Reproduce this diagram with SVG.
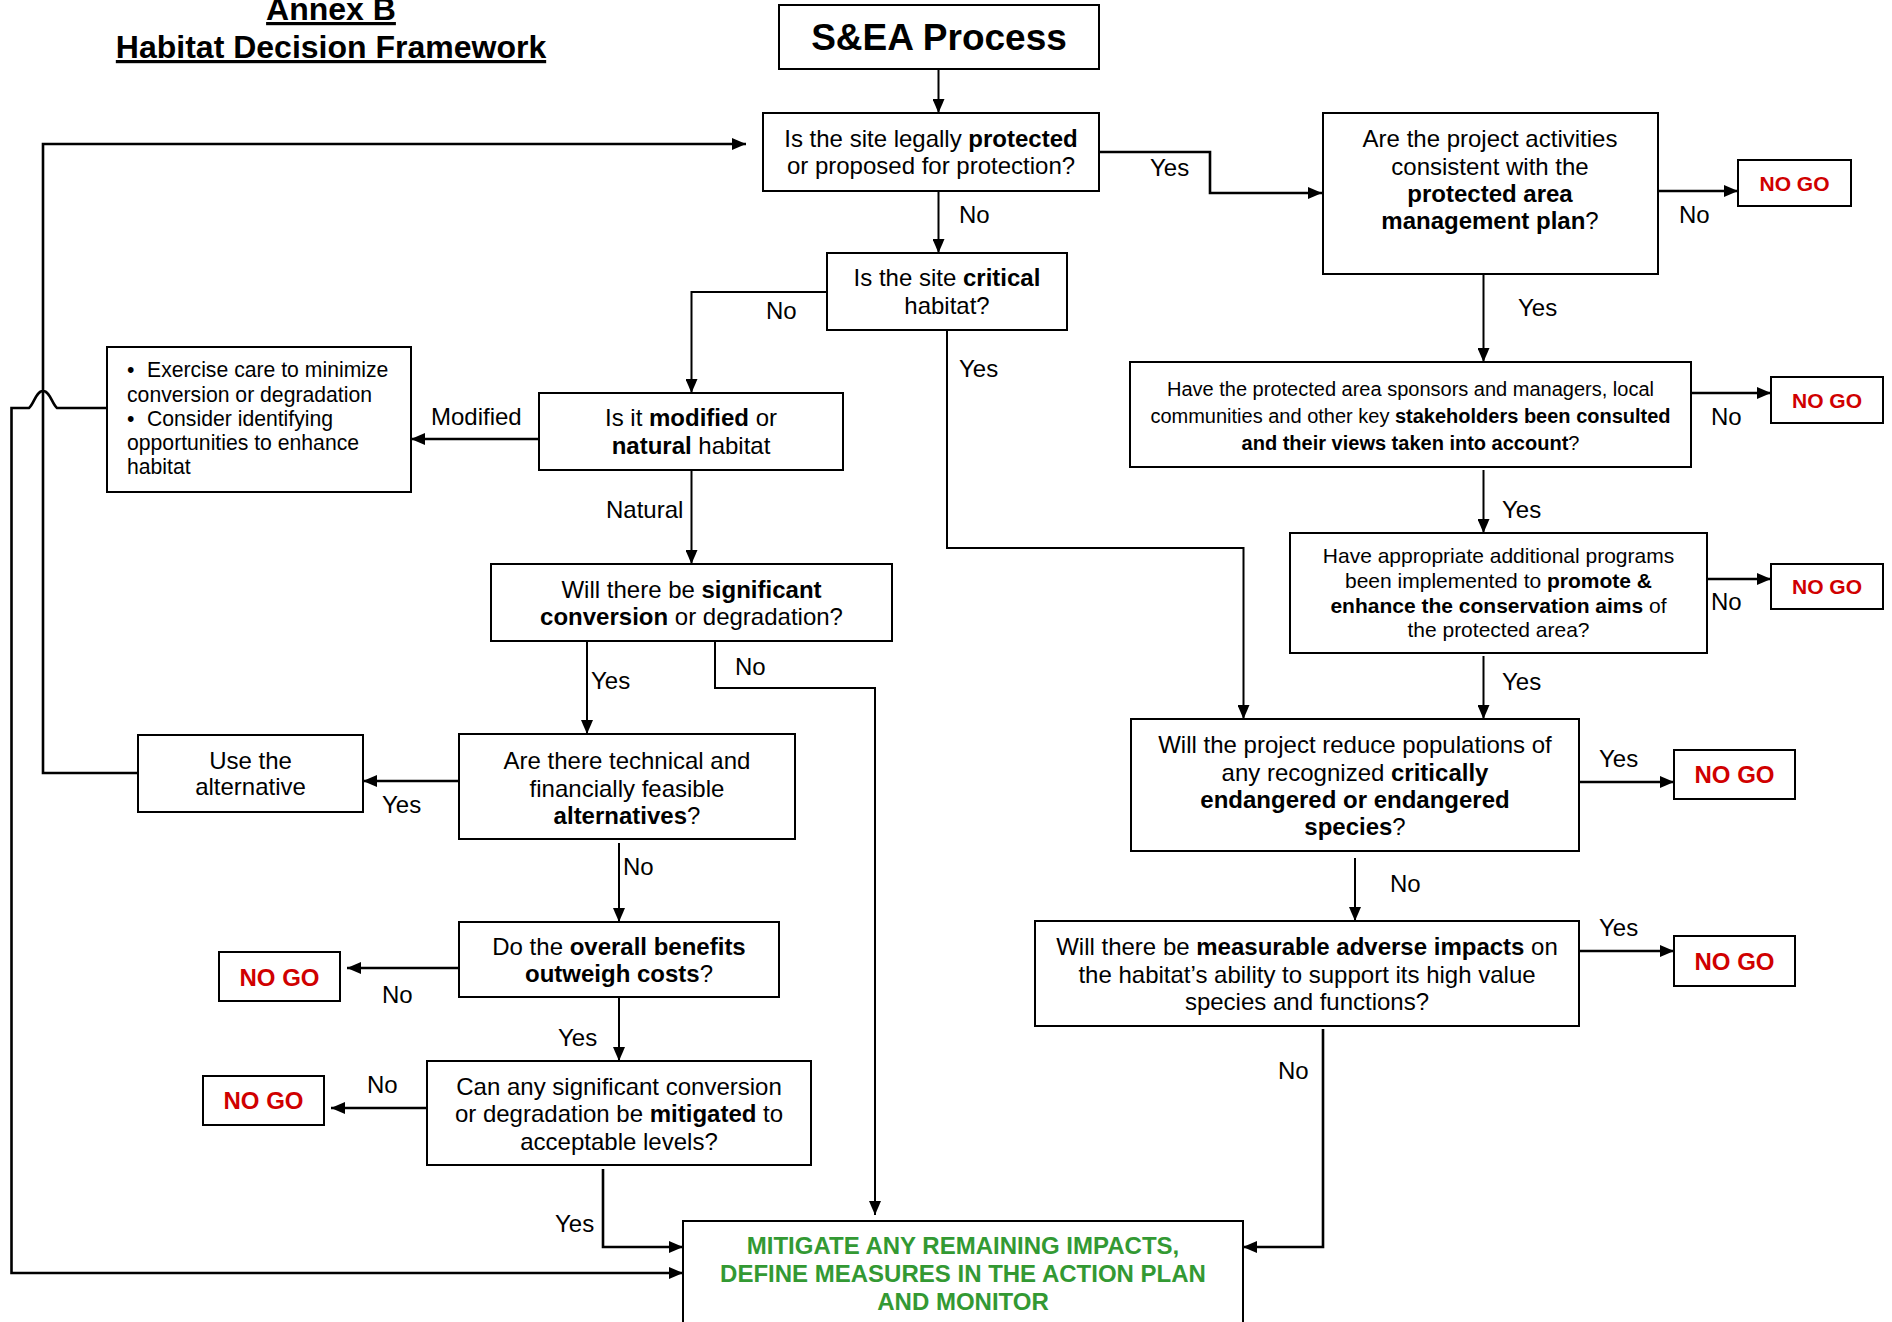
<svg xmlns="http://www.w3.org/2000/svg" width="1892" height="1322" viewBox="0 0 1892 1322">
<style>
text{font-family:"Liberation Sans",Arial,sans-serif;fill:#000}
.t{font-size:24px;text-anchor:middle}
.s20{font-size:20px;text-anchor:middle}
.s21{font-size:21px;text-anchor:middle}
.bl{font-size:21.2px}
.b{font-weight:bold}
.lbl{font-size:24px}
.ng{font-weight:bold;fill:#d00000;text-anchor:middle}
.green{font-size:24px;font-weight:bold;fill:#339933;text-anchor:middle}
.title{font-size:32px;font-weight:bold;text-anchor:middle;text-decoration:underline}
.box{fill:#fff;stroke:#000;stroke-width:2}
.c{fill:none;stroke:#000;stroke-width:2;marker-end:url(#ah)}
.h{stroke-width:2.6}
</style>
<defs>
<marker id="ah" viewBox="0 0 14 12" refX="14" refY="6" markerWidth="14" markerHeight="12" markerUnits="userSpaceOnUse" orient="auto">
<path d="M0,0 L14,6 L0,12 z" fill="#000"/>
</marker>
</defs>
<rect width="1892" height="1322" fill="#fff"/>

<g id="title">
<text class="title" x="331" y="20">Annex B</text>
<text class="title" x="331" y="58">Habitat Decision Framework</text>
</g>

<g id="connectors">
<path class="c" d="M938.5,69 V113"/>
<path class="c h" d="M1099,152 H1210 V193 H1322"/>
<path class="c h" d="M1658,191 H1738"/>
<path class="c" d="M938.5,191 V253"/>
<path class="c" d="M827,292 H691.5 V393"/>
<path class="c" d="M947,330 V548 H1243.5 V719"/>
<path class="c" d="M1483.5,274 V362"/>
<path class="c h" d="M1691,393 H1771"/>
<path class="c" d="M1483.5,470 V533"/>
<path class="c h" d="M1707,579 H1771"/>
<path class="c" d="M1483.5,656 V719"/>
<path class="c h" d="M1579,782 H1674"/>
<path class="c" d="M1355,858 V921"/>
<path class="c h" d="M1579,951 H1674"/>
<path class="c h" d="M1323,1029 V1247 H1243"/>
<path class="c h" d="M539,439 H411"/>
<path class="c" d="M691.5,470 V564"/>
<path class="c" d="M587,641 V734"/>
<path class="c" d="M715,641 V688 H875 V1215"/>
<path class="c h" d="M459,781 H363"/>
<path class="c h" d="M138,773 H43 V144 H746"/>
<path class="c h" d="M107,408 H57 C52,404 50,391 43,391 C36,391 34,404 29,408 H11.5 V1273 H683"/>
<path class="c" d="M619,843 V922"/>
<path class="c h" d="M459,968 H347"/>
<path class="c" d="M619,997 V1061"/>
<path class="c h" d="M427,1108 H331"/>
<path class="c h" d="M603,1169 V1247 H683"/>
</g>

<g id="labels">
<text class="lbl" x="1150" y="176">Yes</text>
<text class="lbl" x="1679" y="223">No</text>
<text class="lbl" x="959" y="223">No</text>
<text class="lbl" x="766" y="319">No</text>
<text class="lbl" x="959" y="377">Yes</text>
<text class="lbl" x="1518" y="316">Yes</text>
<text class="lbl" x="1711" y="425">No</text>
<text class="lbl" x="1502" y="518">Yes</text>
<text class="lbl" x="1711" y="610">No</text>
<text class="lbl" x="1502" y="690">Yes</text>
<text class="lbl" x="1599" y="767">Yes</text>
<text class="lbl" x="1390" y="892">No</text>
<text class="lbl" x="1599" y="936">Yes</text>
<text class="lbl" x="1278" y="1079">No</text>
<text class="lbl" x="431" y="425">Modified</text>
<text class="lbl" x="606" y="518">Natural</text>
<text class="lbl" x="591" y="689">Yes</text>
<text class="lbl" x="735" y="675">No</text>
<text class="lbl" x="382" y="813">Yes</text>
<text class="lbl" x="623" y="875">No</text>
<text class="lbl" x="382" y="1003">No</text>
<text class="lbl" x="558" y="1046">Yes</text>
<text class="lbl" x="367" y="1093">No</text>
<text class="lbl" x="555" y="1232">Yes</text>
</g>

<g id="n-sea">
<rect class="box" x="779" y="5" width="320" height="64"/>
<text x="939" y="50" style="font-size:37px;font-weight:bold;text-anchor:middle">S&amp;EA Process</text>
</g>

<g id="n-protected">
<rect class="box" x="763" y="113" width="336" height="78"/>
<text class="t" x="931" y="147">Is the site legally <tspan class="b">protected</tspan></text>
<text class="t" x="931" y="174">or proposed for protection?</text>
</g>

<g id="n-mgmt">
<rect class="box" x="1323" y="113" width="335" height="161"/>
<text class="t" x="1490" y="147">Are the project activities</text>
<text class="t" x="1490" y="175">consistent with the</text>
<text class="t b" x="1490" y="202">protected area</text>
<text class="t" x="1490" y="229"><tspan class="b">management plan</tspan>?</text>
</g>

<g id="n-nogo1">
<rect class="box" x="1738" y="160" width="113" height="46"/>
<text class="ng" x="1794.5" y="190.5" style="font-size:21px">NO GO</text>
</g>

<g id="n-critical">
<rect class="box" x="827" y="253" width="240" height="77"/>
<text class="t" x="947" y="286">Is the site <tspan class="b">critical</tspan></text>
<text class="t" x="947" y="314">habitat?</text>
</g>

<g id="n-stakeholders">
<rect class="box" x="1130" y="362" width="561" height="105"/>
<text class="s20" x="1410.5" y="396">Have the protected area sponsors and managers, local</text>
<text class="s20" x="1410.5" y="423">communities and other key <tspan class="b">stakeholders been consulted</tspan></text>
<text class="s20" x="1410.5" y="450"><tspan class="b">and their views taken into account</tspan>?</text>
</g>

<g id="n-nogo2">
<rect class="box" x="1771" y="377" width="112" height="46"/>
<text class="ng" x="1827" y="407.5" style="font-size:21px">NO GO</text>
</g>

<g id="n-programs">
<rect class="box" x="1290" y="533" width="417" height="120"/>
<text class="s21" x="1498.5" y="563">Have appropriate additional programs</text>
<text class="s21" x="1498.5" y="588">been implemented to <tspan class="b">promote &amp;</tspan></text>
<text class="s21" x="1498.5" y="613"><tspan class="b">enhance the conservation aims</tspan> of</text>
<text class="s21" x="1498.5" y="637">the protected area?</text>
</g>

<g id="n-nogo3">
<rect class="box" x="1771" y="564" width="112" height="45"/>
<text class="ng" x="1827" y="594" style="font-size:21px">NO GO</text>
</g>

<g id="n-reduce">
<rect class="box" x="1131" y="719" width="448" height="132"/>
<text class="t" x="1355" y="753">Will the project reduce populations of</text>
<text class="t" x="1355" y="781">any recognized <tspan class="b">critically</tspan></text>
<text class="t b" x="1355" y="808">endangered or endangered</text>
<text class="t" x="1355" y="835"><tspan class="b">species</tspan>?</text>
</g>

<g id="n-nogo4">
<rect class="box" x="1674" y="750" width="121" height="49"/>
<text class="ng" x="1734.5" y="783" style="font-size:24px">NO GO</text>
</g>

<g id="n-measurable">
<rect class="box" x="1035" y="921" width="544" height="105"/>
<text class="t" x="1307" y="954.5">Will there be <tspan class="b">measurable adverse impacts</tspan> on</text>
<text class="t" x="1307" y="982.5">the habitat’s ability to support its high value</text>
<text class="t" x="1307" y="1010">species and functions?</text>
</g>

<g id="n-nogo5">
<rect class="box" x="1674" y="936" width="121" height="50"/>
<text class="ng" x="1734.5" y="970" style="font-size:24px">NO GO</text>
</g>

<g id="n-mitigate">
<rect class="box" x="683" y="1221" width="560" height="115"/>
<text class="green" x="963" y="1254">MITIGATE ANY REMAINING IMPACTS,</text>
<text class="green" x="963" y="1282">DEFINE MEASURES IN THE ACTION PLAN</text>
<text class="green" x="963" y="1310">AND MONITOR</text>
</g>

<g id="n-modified">
<rect class="box" x="539" y="393" width="304" height="77"/>
<text class="t" x="691" y="426">Is it <tspan class="b">modified</tspan> or</text>
<text class="t" x="691" y="453.5"><tspan class="b">natural</tspan> habitat</text>
</g>

<g id="n-bullets">
<rect class="box" x="107" y="347" width="304" height="145"/>
<text class="bl" y="377"><tspan x="127">•</tspan><tspan x="147">Exercise care to minimize</tspan></text>
<text class="bl" x="127" y="401.5">conversion or degradation</text>
<text class="bl" y="426"><tspan x="127">•</tspan><tspan x="147">Consider identifying</tspan></text>
<text class="bl" x="127" y="450">opportunities to enhance</text>
<text class="bl" x="127" y="474">habitat</text>
</g>

<g id="n-significant">
<rect class="box" x="491" y="564" width="401" height="77"/>
<text class="t" x="691.5" y="597.5">Will there be <tspan class="b">significant</tspan></text>
<text class="t" x="691.5" y="625"><tspan class="b">conversion</tspan> or degradation?</text>
</g>

<g id="n-alternatives">
<rect class="box" x="459" y="734" width="336" height="105"/>
<text class="t" x="627" y="768.5">Are there technical and</text>
<text class="t" x="627" y="796.5">financially feasible</text>
<text class="t" x="627" y="824"><tspan class="b">alternatives</tspan>?</text>
</g>

<g id="n-usealt">
<rect class="box" x="138" y="735" width="225" height="77"/>
<text class="t" x="250.5" y="768.5">Use the</text>
<text class="t" x="250.5" y="795">alternative</text>
</g>

<g id="n-benefits">
<rect class="box" x="459" y="922" width="320" height="75"/>
<text class="t" x="619" y="954.5">Do the <tspan class="b">overall benefits</tspan></text>
<text class="t" x="619" y="982"><tspan class="b">outweigh costs</tspan>?</text>
</g>

<g id="n-nogo6">
<rect class="box" x="219" y="952" width="121" height="49"/>
<text class="ng" x="279.5" y="985.5" style="font-size:24px">NO GO</text>
</g>

<g id="n-mitigated">
<rect class="box" x="427" y="1061" width="384" height="104"/>
<text class="t" x="619" y="1094.5">Can any significant conversion</text>
<text class="t" x="619" y="1122">or degradation be <tspan class="b">mitigated</tspan> to</text>
<text class="t" x="619" y="1150">acceptable levels?</text>
</g>

<g id="n-nogo7">
<rect class="box" x="203" y="1076" width="121" height="49"/>
<text class="ng" x="263.5" y="1108.5" style="font-size:24px">NO GO</text>
</g>
</svg>
